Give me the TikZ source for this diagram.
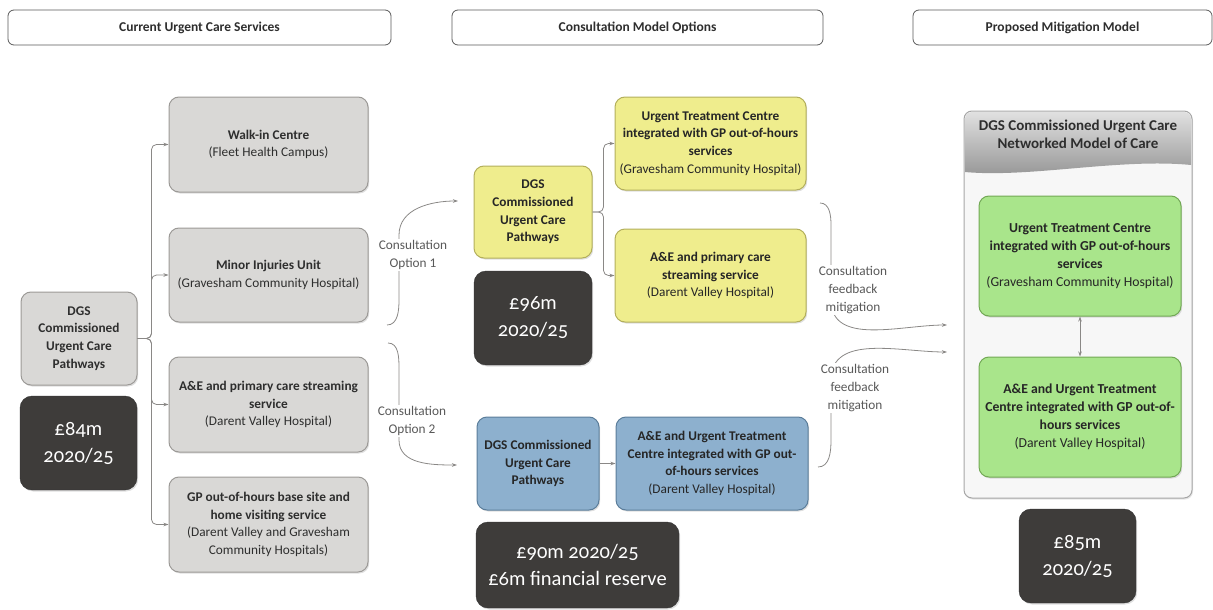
\documentclass[tikz,border=0pt]{standalone}
\usepackage{fontspec}
\setmainfont{Carlito}
\newfontfamily\numfont[Numbers=OldStyle]{Carlito}
\usetikzlibrary{arrows.meta,shadows}

\definecolor{greyfill}{HTML}{D9D8D6}
\definecolor{greyline}{HTML}{9C9A97}
\definecolor{darkfill}{HTML}{3E3C3A}
\definecolor{yelfill}{HTML}{EFED8D}
\definecolor{yelline}{HTML}{B3AF5C}
\definecolor{bluefill}{HTML}{8DB0CE}
\definecolor{blueline}{HTML}{5B7D9A}
\definecolor{grnfill}{HTML}{A9E58B}
\definecolor{grnline}{HTML}{72A855}
\definecolor{linkgrey}{HTML}{8A8886}
\definecolor{txtgrey}{HTML}{2E2E2E}

\tikzset{
  head/.style={draw=black!65, line width=0.8pt, rounded corners=6pt, minimum height=35pt,
    font=\bfseries\fontsize{13.5}{16}\selectfont, text=txtgrey},
  box/.style={rounded corners=10pt, line width=1pt, align=center, inner sep=2pt,
    font=\fontsize{13.3}{17.7}\selectfont, text=txtgrey,
    drop shadow={shadow xshift=1.2pt, shadow yshift=-1.5pt, opacity=0.25}},
  greybox/.style={box, draw=greyline, fill=greyfill},
  yelbox/.style={box, draw=yelline, fill=yelfill, text=black!85},
  bluebox/.style={box, draw=blueline, fill=bluefill, text=black!85},
  grnbox/.style={box, draw=grnline, fill=grnfill, text=black!85,
    font=\fontsize{13.7}{18}\selectfont},
  costbox/.style={rounded corners=12pt, draw=black!80, fill=darkfill, text=white, align=center,
    font=\numfont\fontsize{20.5}{27}\selectfont,
    drop shadow={shadow xshift=1.2pt, shadow yshift=-1.5pt, opacity=0.25}},
  note/.style={fill=white, align=center, inner sep=1pt, text=black!65,
    font=\fontsize{13.3}{18}\selectfont},
  link/.style={draw=linkgrey, line width=0.8pt, -{Stealth[length=5pt,width=3.5pt]}}
}

\begin{document}
\begin{tikzpicture}[x=1pt,y=-1pt]
\useasboundingbox (0,0) rectangle (1213,610);

\node[head, minimum width=383pt] (hcur) at (199.5,27.5) {Current Urgent Care Services};
\node[head, minimum width=371pt] (hcon) at (637.5,27.5) {Consultation Model Options};
\node[head, minimum width=299pt] (hpro) at (1062.5,27.5) {Proposed Mitigation Model};

\node[greybox, minimum width=116pt, minimum height=93pt] (dgsA) at (79,338.5)
  {\bfseries DGS\\\bfseries Commissioned\\\bfseries Urgent Care\\\bfseries Pathways};
\node[costbox, minimum width=117pt, minimum height=94pt] (costA) at (78.5,443) {£84m\\2020/25};

\node[greybox, minimum width=199pt, minimum height=95pt] (walk) at (268.5,144.5)
  {\bfseries Walk-in Centre\\(Fleet Health Campus)};
\node[greybox, minimum width=199pt, minimum height=94pt] (minor) at (268.5,275)
  {\bfseries Minor Injuries Unit\\(Gravesham Community Hospital)};
\node[greybox, minimum width=199pt, minimum height=95pt] (aande) at (268.5,404.5)
  {\bfseries A\&E and primary care streaming\\\bfseries service\\(Darent Valley Hospital)};
\node[greybox, minimum width=199pt, minimum height=95pt] (gpooh) at (268.5,524.5)
  {\bfseries GP out-of-hours base site and\\\bfseries home visiting service\\(Darent Valley and Gravesham\\Community Hospitals)};

\draw[link, rounded corners=5pt] (dgsA.east) -- ++(14,0) |- (walk.west);
\draw[link, rounded corners=5pt] (dgsA.east) -- ++(14,0) |- (minor.west);
\draw[link, rounded corners=5pt] (dgsA.east) -- ++(14,0) |- (aande.west);
\draw[link, rounded corners=5pt] (dgsA.east) -- ++(14,0) |- (gpooh.west);

\node[yelbox, minimum width=118pt, minimum height=92pt] (dgsB) at (533,212)
  {\bfseries DGS\\\bfseries Commissioned\\\bfseries Urgent Care\\\bfseries Pathways};
\node[costbox, minimum width=118pt, minimum height=94pt] (costB) at (533,318) {£96m\\2020/25};
\node[yelbox, minimum width=191pt, minimum height=93pt] (utcB) at (710.5,143.5)
  {\bfseries Urgent Treatment Centre\\\bfseries integrated with GP out-of-hours\\\bfseries services\\(Gravesham Community Hospital)};
\node[yelbox, minimum width=191pt, minimum height=93pt] (aeB) at (710.5,275.5)
  {\bfseries A\&E and primary care\\\bfseries streaming service\\(Darent Valley Hospital)};

\draw[link, rounded corners=5pt] (dgsB.east) -- ++(11,0) |- (utcB.west);
\draw[link, rounded corners=5pt] (dgsB.east) -- ++(11,0) |- (aeB.west);

\node[bluebox, minimum width=122pt, minimum height=93pt] (dgsC) at (538,463.5)
  {\bfseries DGS Commissioned\\\bfseries Urgent Care\\\bfseries Pathways};
\node[bluebox, minimum width=192pt, minimum height=93pt] (aeC) at (712,463.5)
  {\bfseries A\&E and Urgent Treatment\\\bfseries Centre integrated with GP out-\\\bfseries of-hours services\\(Darent Valley Hospital)};
\node[costbox, minimum width=203pt, minimum height=86pt] (costC) at (577.5,565)
  {£90m 2020/25\\£6m financial reserve};

\draw[link] (dgsC) -- (aeC);

\coordinate (o1s) at (387,325);
\coordinate (o1e) at (458,201);
\coordinate (o2s) at (388,343);
\coordinate (o2e) at (457,465);
\draw[link] (o1s) to[out=0,in=-90] (399,300) -- (399,235) to[out=90,in=180] (o1e);
\draw[link] (o2s) to[out=0,in=90] (399,368) -- (399,440) to[out=-90,in=180] (o2e);
\node[note] (opt1) at (413,255) {Consultation\\Option 1};
\node[note] (opt2) at (412,421) {Consultation\\Option 2};

\node[rounded corners=8pt, draw=black!35, fill=black!3, line width=1pt,
  minimum width=228pt, minimum height=387pt,
  drop shadow={shadow xshift=1pt, shadow yshift=-1.5pt, opacity=0.2}] (net) at (1078,304.5) {};
\shade[top color=black!12, bottom color=black!42, rounded corners=7pt]
  (965,172) -- (965,112) -- (1191,112) [sharp corners] -- (1191,165)
  .. controls (1120,158) and (1030,178) .. (965,172);
\node[align=center, text=txtgrey, font=\bfseries\fontsize{15}{18}\selectfont] (nettitle) at (1078,134)
  {DGS Commissioned Urgent Care\\Networked Model of Care};

\node[grnbox, minimum width=202pt, minimum height=120pt] (utcD) at (1080,256)
  {\bfseries Urgent Treatment Centre\\\bfseries integrated with GP out-of-hours\\\bfseries services\\(Gravesham Community Hospital)};
\node[grnbox, minimum width=202pt, minimum height=120pt] (aeD) at (1080,417)
  {\bfseries A\&E and Urgent Treatment\\\bfseries Centre integrated with GP out-of-\\\bfseries hours services\\(Darent Valley Hospital)};
\draw[link, {Stealth[length=5pt,width=3.5pt]}-{Stealth[length=5pt,width=3.5pt]}] (utcD) -- (aeD);

\node[costbox, minimum width=117pt, minimum height=94pt] (costD) at (1077.5,556) {£85m\\2020/25};

\coordinate (fb1s) at (820,203);
\coordinate (fb1e) at (947,325);
\coordinate (fb2s) at (818,467);
\coordinate (fb2e) at (947,352);
\draw[link] (fb1s) to[out=0,in=90] (831,225) -- (831,300) to[out=-90,in=180] (fb1e);
\draw[link] (fb2s) to[out=0,in=-90] (831,440) -- (831,380) to[out=90,in=180] (fb2e);
\node[note] (fb1) at (853,290) {Consultation\\feedback\\mitigation};
\node[note] (fb2) at (855,388) {Consultation\\feedback\\mitigation};
\end{tikzpicture}
\end{document}
